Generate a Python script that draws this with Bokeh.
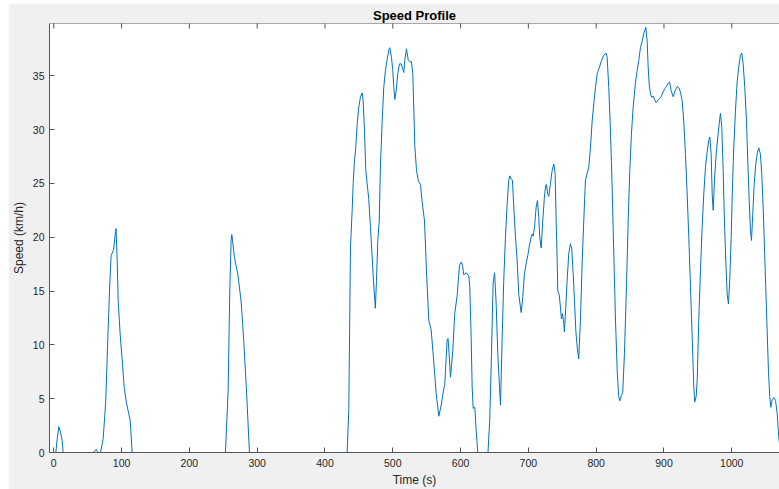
import math
from bokeh.plotting import figure
from bokeh.models import Range1d, FixedTicker, ColumnDataSource, Span
from bokeh.embed import file_html
from bokeh.resources import INLINE

title_text = "Speed Profile"
x_label = "Time (s)"
y_label = "Speed (km/h)"
x_ticks = [0, 100, 200, 300, 400, 500, 600, 700, 800, 900, 1000]
y_ticks = [0, 5, 10, 15, 20, 25, 30, 35]

time_s = [
    0, 3, 5, 7.4, 9.9, 12.4, 13.8, 58, 60, 62.5, 64, 66, 69, 72.9, 76.7, 79.6,
    82.2, 84.6, 88.2, 90.5, 91.8, 93.5, 95, 97.9, 100.9, 103.8, 107.2, 110.6,
    112.7, 115.6, 117, 253.2, 257.2, 259.6, 261.6, 262.6, 264, 266.5, 271.4,
    276.4, 280.2, 284.2, 288.6, 432.7, 435.1, 437.6, 440.1, 441.6, 443.5, 445,
    447.5, 449.9, 452.4, 454.9, 456.3, 458.3, 460.2, 462.2, 464.6, 467, 469.5,
    471.5, 474.3, 476, 477.9, 480, 481.9, 484.4, 486.7, 489.2, 491.7, 494.1,
    495.6, 498.1, 500, 501.5, 503, 505, 507.4, 509.9, 512.4, 514.8, 516.2,
    517.7, 520.2, 522.7, 525.1, 527.6, 529.5, 531, 532.5, 535, 537.9, 540.9,
    543.3, 546.8, 549.7, 553.1, 556.6, 560.5, 564, 567.9, 571.4, 575.2, 576.7,
    578.5, 580.2, 581.5, 583, 585.1, 588.5, 591.4, 595, 598.4, 601.3, 603,
    604.7, 608.3, 612.1, 613.6, 615.6, 617.1, 618.6, 621, 623, 625.4, 640.4,
    643, 645.6, 648, 650.2, 652.5, 654.9, 657.4, 658.9, 661.4, 663.7, 666.2,
    668.7, 671.1, 672.6, 674.6, 676.5, 678.5, 681, 683.5, 685.8, 689.4, 691.7,
    694.2, 697.2, 699.1, 702.1, 704.1, 705.6, 707.1, 709, 711.5, 713.4, 715.3,
    716.8, 718.9, 721.2, 723.5, 725.5, 726.7, 728.6, 730.1, 732.6, 735.1,
    737.5, 739.5, 741, 742.5, 743.4, 745.4, 747.3, 748.8, 750.3, 752.2, 753.2,
    755.2, 757.2, 759.6, 762.1, 764, 766.1, 768, 770, 772, 774.3, 776.8, 779.4,
    781.7, 784.2, 786.7, 789.1, 791.6, 794.1, 796.5, 799, 801.5, 804.9, 807.8,
    811.2, 814.7, 816.2, 818.6, 821.1, 823.6, 826, 828.5, 831, 833.3, 834.8,
    837.3, 839.2, 841.7, 844.7, 847.2, 849.6, 852, 854.6, 858, 860.5, 862.8,
    865.3, 867.8, 870.2, 873.2, 875.2, 876.7, 878.2, 880.1, 882, 884.1, 886,
    888.5, 890.9, 893.8, 896.3, 898.8, 901.2, 903.7, 906.2, 908.3, 910.6,
    913.6, 916.5, 919.5, 921.8, 924.3, 926.8, 929.2, 931.7, 934.2, 936.6,
    939.1, 941.6, 944, 945.4, 947.5, 949, 951.3, 953.8, 956.3, 958.7, 961.2,
    963.7, 966, 967.6, 969.6, 971.1, 972.6, 974.5, 977, 979.4, 981.9, 983.3,
    985.3, 987.3, 989.2, 991.2, 993.2, 995.1, 997, 999.1, 1001, 1002.9, 1005.5,
    1008, 1010.3, 1012.8, 1014.7, 1016.8, 1019.2, 1021.7, 1023.6, 1025.7,
    1027.6, 1029.1, 1031, 1033.1, 1035.4, 1037.9, 1039.8, 1042.3, 1044.2,
    1046.3, 1048.2, 1050.1, 1052.2, 1054.1, 1056, 1057.5, 1059.6, 1062, 1064.5,
    1067, 1069.3, 1070.5,
]

speed_kmh = [
    0, 0, 1.2, 2.4, 1.9, 1.1, 0, 0, 0.1, 0.28, 0.1, 0, 0, 1.3, 4.8, 10.4,
    15.0, 18.3, 18.8, 20.2, 20.8, 18.0, 14.1, 11.0, 8.6, 6.1, 4.6, 3.6,
    3.0, 0, 0, 0, 5.8, 15.0, 19.7, 20.25, 19.5, 18.1, 16.6,
    14.0, 10.4, 5.8, 0, 0, 3.9, 19.0, 22.5, 25.0, 27.1, 28.0,
    30.5, 32.1, 33.05, 33.4, 32.7, 29.9, 26.2, 25.0, 23.5, 21.0, 18.3,
    16.0, 13.4, 16, 19.7, 21.5, 26.8, 30.8, 33.9, 35.5, 36.5, 37.4,
    37.6, 36.7, 35.5, 33.9, 32.8, 33.6, 35.2, 36.1, 36.1, 35.6, 35.3,
    36.4, 37.5, 36.5, 36.3, 36.3, 35.2, 32.0, 28.5, 26.2, 25.2, 24.9,
    23.3, 21.5, 16.9, 12.3, 11.4, 8.4, 5.5, 3.37, 4.4, 5.9, 6.3,
    8.5, 10.5, 10.6, 9.3, 7.0, 9.4, 12.9, 14.6, 17.4, 17.7, 17.3,
    16.5, 16.7, 16.4, 15.4, 10.7, 6.1, 4.1, 4.2, 2.1, 0, 0,
    3.0, 9.2, 15.7, 16.7, 13.8, 9.2, 6.1, 4.4, 10.7, 16.0, 20.0,
    23.1, 25.3, 25.7, 25.4, 25.3, 22.8, 20.0, 17.8, 14.7, 13.0, 14.4,
    16.6, 17.7, 18.3, 19.4, 20.0, 20.3, 20.1, 20.9, 22.8, 23.4, 21.9,
    20.0, 19.0, 21.5, 23.6, 24.8, 24.9, 24.0, 23.8, 25.0, 26.2,
    26.8, 25.9, 21.5, 17.8, 15.0, 14.7, 13.5, 12.4, 12.9, 12.0, 11.2,
    13.5, 16.0, 18.5, 19.4, 18.9, 16.6, 14.1, 11.3, 9.8, 8.7, 12.3, 17.8,
    21.5, 25.3, 25.9, 26.5, 28.3, 30.8, 32.4, 33.9, 35.2, 35.8, 36.4,
    36.9, 37.1, 36.7, 33.9, 29.9, 24.6, 18.5, 12.3, 7.6, 5.2, 4.8,
    5.3, 5.6, 9.2, 15.4, 21.5, 26.2, 29.6, 32.1, 34.4, 35.5, 36.4,
    37.6, 38.2, 38.9, 39.5, 38.2, 35.8, 34.2, 33.3, 33.0, 33.1, 32.8,
    32.5, 32.7, 32.9, 33.1, 33.5, 33.8, 34.0, 34.3, 34.4, 33.6,
    33.05, 33.6, 34.0, 33.9, 33.5, 32.7, 30.8, 27.7, 24.0, 20.0,
    15.4, 10.7, 6.1, 4.7, 5.2, 6.7, 12.3, 16.9, 20.9, 24.0, 26.5,
    27.9, 29.0, 29.3, 27.7, 24.0, 22.5, 25.3, 27.7, 29.3, 30.8, 31.5,
    30.2, 26.2, 21.5, 17.8, 14.7, 13.8, 16.0, 20.0, 24.6, 28.3, 31.8,
    34.5, 35.8, 36.9, 37.1, 36.1, 33.9, 30.8, 27.1, 23.4,
    20.6, 19.7, 22.2, 25.0, 26.8, 27.9, 28.3, 27.7, 25.9,
    22.8, 19.1, 15.4, 11.3, 7.6, 5.2, 4.2, 4.9, 5.1, 4.85,
    3.6, 1.45, 0.8,
]

FONT = "Liberation Sans"
AX_COLOR = "#555555"
TXT_COLOR = "#262626"

src = ColumnDataSource(data=dict(t=time_s, v=speed_kmh))
x_range = Range1d(-6.3, 1070.4)
y_range = Range1d(0, 39.85)

p = figure(
    width=771, height=486,
    output_backend="svg", toolbar_location=None,
    x_range=x_range, y_range=y_range,
    min_border_left=41, min_border_right=0, min_border_top=20, min_border_bottom=37,
)
p.margin = (3, 0, 0, 8)
p.background_fill_color = "white"
p.border_fill_color = "#f0f0f0"
p.outline_line_color = None
p.grid.visible = False

p.title.text = title_text
p.title.align = "center"
p.title.text_font = FONT
p.title.text_font_size = "13px"
p.title.text_font_style = "bold"
p.title.text_color = "#000000"
p.title.standoff = 2

p.line("t", "v", source=src, line_color="#0072BD", line_width=1)

for ax in (p.xaxis[0], p.yaxis[0]):
    ax.axis_line_color = AX_COLOR
    ax.major_tick_line_color = AX_COLOR
    ax.major_tick_in = 5
    ax.major_tick_out = 0
    ax.minor_tick_line_color = None
    ax.major_label_text_font = FONT
    ax.major_label_text_font_size = "10.5px"
    ax.major_label_text_color = TXT_COLOR
    ax.axis_label_text_font = FONT
    ax.axis_label_text_font_size = "12px"
    ax.axis_label_text_font_style = "normal"
    ax.axis_label_text_color = TXT_COLOR

p.xaxis[0].ticker = FixedTicker(ticks=x_ticks)
p.yaxis[0].ticker = FixedTicker(ticks=y_ticks)
p.xaxis[0].axis_label = x_label
p.yaxis[0].axis_label = y_label
p.xaxis[0].major_label_standoff = 6
p.xaxis[0].axis_label_standoff = 3
p.yaxis[0].major_label_standoff = 5
p.yaxis[0].axis_label_standoff = 4

# top box edge with inward ticks (MATLAB "box on")
p.add_layout(Span(location=y_range.end, dimension="width", line_color=AX_COLOR, line_width=1))
p.scatter(x=x_ticks, y=[y_range.end] * len(x_ticks), marker="dash", angle=math.pi / 2,
          size=10, line_color=AX_COLOR, line_width=1)

open("out.html", "w").write(file_html(p, INLINE))
